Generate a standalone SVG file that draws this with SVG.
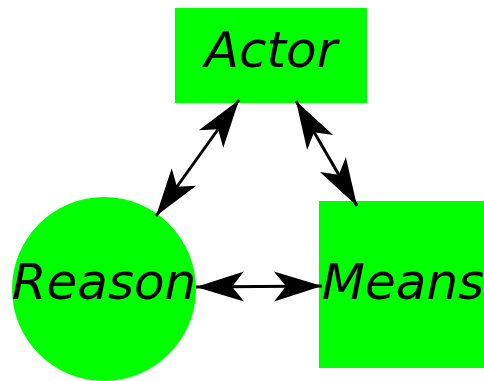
<svg xmlns="http://www.w3.org/2000/svg" width="484" height="381" viewBox="0 0 484 381">
<defs>
<style>
.node{fill:#00ff00;stroke:none}
.lbl{font-family:"DejaVu Sans",sans-serif;font-style:oblique;font-size:50px;fill:#000;text-anchor:middle}
.conn{stroke:#000;stroke-width:3;fill:none;marker-start:url(#ah);marker-end:url(#ah)}
</style>
<marker id="ah" viewBox="-50 -17 52 34" markerWidth="52" markerHeight="34" refX="0" refY="0" markerUnits="userSpaceOnUse" orient="auto-start-reverse">
<path d="M0,0 L-48,-15 L-36,0 L-48,15 Z" fill="#000"/>
</marker>
</defs>
<g id="actor"><rect class="node" x="175" y="8" width="192" height="95"/><text class="lbl" x="271" y="67">Actor</text></g>
<g id="reason"><circle class="node" cx="104" cy="289" r="92"/><text class="lbl" x="104" y="299">Reason</text></g>
<g id="means"><rect class="node" x="319" y="201" width="165" height="167"/><text class="lbl" x="403" y="299">Means</text></g>
<g id="connectors">
<line class="conn" x1="239" y1="100" x2="156" y2="216"/>
<line class="conn" x1="296" y1="101" x2="357" y2="206"/>
<line class="conn" x1="196" y1="287" x2="322" y2="286"/>
</g>
</svg>
